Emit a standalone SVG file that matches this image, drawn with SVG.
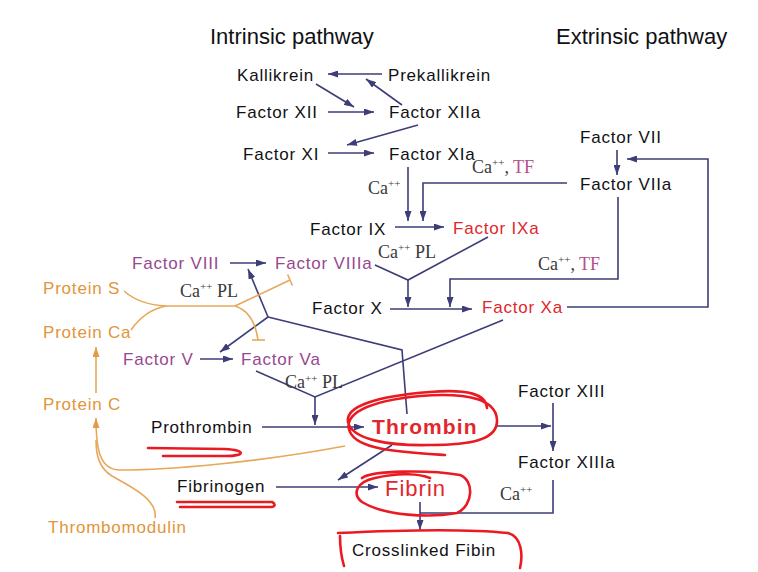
<svg xmlns="http://www.w3.org/2000/svg" width="758" height="572" viewBox="0 0 758 572">
<defs>
<marker id="a" markerUnits="userSpaceOnUse" markerWidth="10" markerHeight="7" refX="10" refY="3.5" orient="auto"><path d="M0,0 L10,3.5 L0,7 z" fill="#3d3d78"/></marker>
<marker id="o" markerUnits="userSpaceOnUse" markerWidth="10" markerHeight="7" refX="10" refY="3.5" orient="auto"><path d="M0,0 L10,3.5 L0,7 z" fill="#e29a45"/></marker>
<style>
text{font-family:"Liberation Sans",Arial,sans-serif;font-size:17px;letter-spacing:0.8px;fill:#111114}
.t{font-size:22px;letter-spacing:0}
.p{fill:#974890}
.r{fill:#e2262c}
.or{fill:#e2953a}
.s{font-family:"Liberation Serif","Times New Roman",serif;font-size:18px;letter-spacing:0;fill:#3a3a3a}
.s tspan.u{font-size:11px}
.tf{fill:#b5508a}
.c path{fill:none;stroke:#3d3d78;stroke-width:1.6}
.og path{fill:none;stroke:#e6a85a;stroke-width:1.6}
.red path{fill:none;stroke:#ea1a22;stroke-width:2.6;stroke-linecap:round;stroke-linejoin:round}
</style>
</defs>
<rect width="758" height="572" fill="#ffffff"/>

<g id="titles">
<text class="t" x="210" y="44">Intrinsic pathway</text>
<text class="t" x="556" y="44">Extrinsic pathway</text>
</g>

<g id="connectors" class="c">
<path d="M382,74 L328,74" marker-end="url(#a)"/>
<path d="M402,105 L366,79" marker-end="url(#a)"/>
<path d="M316,84 L354,107" marker-end="url(#a)"/>
<path d="M328,112 L374,112" marker-end="url(#a)"/>
<path d="M418,125 L347,145" marker-end="url(#a)"/>
<path d="M328,153 L374,153" marker-end="url(#a)"/>
<path d="M408,167 L408,221" marker-end="url(#a)"/>
<path d="M567,183 L423,183 L423,221" marker-end="url(#a)"/>
<path d="M395,227 L444,227" marker-end="url(#a)"/>
<path d="M617,150 L617,175" marker-end="url(#a)"/>
<path d="M618,197 L618,279 L450,279 L450,307" marker-end="url(#a)"/>
<path d="M567,307 L708,307 L708,159 L627,159" marker-end="url(#a)"/>
<path d="M375,265 L408,280 L488,237"/>
<path d="M408,280 L408,307" marker-end="url(#a)"/>
<path d="M390,309 L472,309" marker-end="url(#a)"/>
<path d="M503,320 L315,397 L256,371"/>
<path d="M315,397 L315,425" marker-end="url(#a)"/>
<path d="M407,414 L402,350 L268,317"/>
<path d="M268,317 L248,269" marker-end="url(#a)"/>
<path d="M268,317 L220,352" marker-end="url(#a)"/>
<path d="M200,359 L233,359" marker-end="url(#a)"/>
<path d="M230,263 L266,263" marker-end="url(#a)"/>
<path d="M262,427 L364,427" marker-end="url(#a)"/>
<path d="M497,426 L551,426" marker-end="url(#a)"/>
<path d="M553,403 L553,451" marker-end="url(#a)"/>
<path d="M392,445 L338,480" marker-end="url(#a)"/>
<path d="M276,487 L378,487" marker-end="url(#a)"/>
<path d="M420,502 L420,530" marker-end="url(#a)"/>
<path d="M553,480 L553,513 L420,513"/>
</g>

<g id="inhibition" class="og">
<path d="M124,291 Q140,305 166,306"/>
<path d="M131,330 Q145,310 166,306"/>
<path d="M166,306 L235,306"/>
<path d="M235,306 L290,280"/>
<path d="M287.6,274.5 L292.4,285.5"/>
<path d="M235,306 Q254,312 258,340"/>
<path d="M252,340 L265,340"/>
<path d="M96,393 L96,347" marker-end="url(#o)"/>
<path d="M345,446 C260,462 170,470 120,470 C100,470 96,450 96,418" marker-end="url(#o)"/>
<path d="M155,518 C158,500 132,487 112,476 C99,468 96,455 96,440"/>
</g>

<g id="n-kallikrein"><text x="237" y="81">Kallikrein</text></g>
<g id="n-prekallikrein"><text x="388" y="81">Prekallikrein</text></g>
<g id="n-f12"><text x="236" y="118">Factor XII</text></g>
<g id="n-f12a"><text x="389" y="118">Factor XIIa</text></g>
<g id="n-f11"><text x="243" y="160">Factor XI</text></g>
<g id="n-f11a"><text x="389" y="160">Factor XIa</text></g>
<g id="n-f7"><text x="580" y="143">Factor VII</text></g>
<g id="n-f7a"><text x="580" y="190">Factor VIIa</text></g>
<g id="n-f9"><text x="310" y="235">Factor IX</text></g>
<g id="n-f9a"><text class="r" x="453" y="234">Factor IXa</text></g>
<g id="n-f8"><text class="p" x="132" y="269">Factor VIII</text></g>
<g id="n-f8a"><text class="p" x="275" y="269">Factor VIIIa</text></g>
<g id="n-f10"><text x="312" y="314">Factor X</text></g>
<g id="n-f10a"><text class="r" x="482" y="313">Factor Xa</text></g>
<g id="n-f5"><text class="p" x="123" y="365">Factor V</text></g>
<g id="n-f5a"><text class="p" x="241" y="365">Factor Va</text></g>
<g id="n-proteinS"><text class="or" x="43" y="294">Protein S</text></g>
<g id="n-proteinCa"><text class="or" x="43" y="338">Protein Ca</text></g>
<g id="n-proteinC"><text class="or" x="43" y="410">Protein C</text></g>
<g id="n-thrombomodulin"><text class="or" x="48" y="533">Thrombomodulin</text></g>
<g id="n-f13"><text x="518" y="397">Factor XIII</text></g>
<g id="n-f13a"><text x="518" y="468">Factor XIIIa</text></g>
<g id="n-prothrombin"><text x="151" y="433">Prothrombin</text></g>
<g id="n-thrombin"><text class="r" x="372" y="434" style="font-size:21px;font-weight:bold;letter-spacing:1.1px">Thrombin</text></g>
<g id="n-fibrinogen"><text x="177" y="492">Fibrinogen</text></g>
<g id="n-fibrin"><text class="r" x="385" y="496" style="font-size:22px;letter-spacing:1px">Fibrin</text></g>
<g id="n-crosslinked"><text x="352" y="556">Crosslinked Fibin</text></g>

<g id="labels">
<text class="s" x="368" y="194">Ca<tspan class="u" dy="-7">++</tspan></text>
<text class="s" x="472" y="173">Ca<tspan class="u" dy="-7">++</tspan><tspan dy="7">, </tspan><tspan class="tf">TF</tspan></text>
<text class="s" x="538" y="270">Ca<tspan class="u" dy="-7">++</tspan><tspan dy="7">, </tspan><tspan class="tf">TF</tspan></text>
<text class="s" x="378" y="258">Ca<tspan class="u" dy="-7">++</tspan><tspan dy="7"> PL</tspan></text>
<text class="s" x="180" y="297">Ca<tspan class="u" dy="-7">++</tspan><tspan dy="7"> PL</tspan></text>
<text class="s" x="285" y="388">Ca<tspan class="u" dy="-6">++</tspan><tspan dy="6"> PL</tspan></text>
<text class="s" x="500" y="500">Ca<tspan class="u" dy="-7">++</tspan></text>
</g>

<g id="annotations" class="red">
<path d="M445,455 C400,452 358,450 350,432 C342,414 368,401 420,396 C470,392 496,400 497,420 C498,440 470,445 430,445 C390,446 352,440 348,422 C345,406 378,396 430,392 C468,389 486,394 487,408"/>
<path d="M148,448 L225,449 C246,450 246,456 225,456 L163,456"/>
<path d="M177,502 L272,502 C276,504 275,507 271,507 L180,507"/>
<path d="M362,478 C372,470 430,470 460,475 C474,480 474,505 457,513 C430,518 385,516 362,502 C352,494 356,482 375,478 C400,472 420,474 430,478"/>
<path d="M338,533 C400,530 470,529 508,533 C522,537 523,555 520,568 M340,536 C340,546 341,556 344,566"/>
</g>
</svg>
